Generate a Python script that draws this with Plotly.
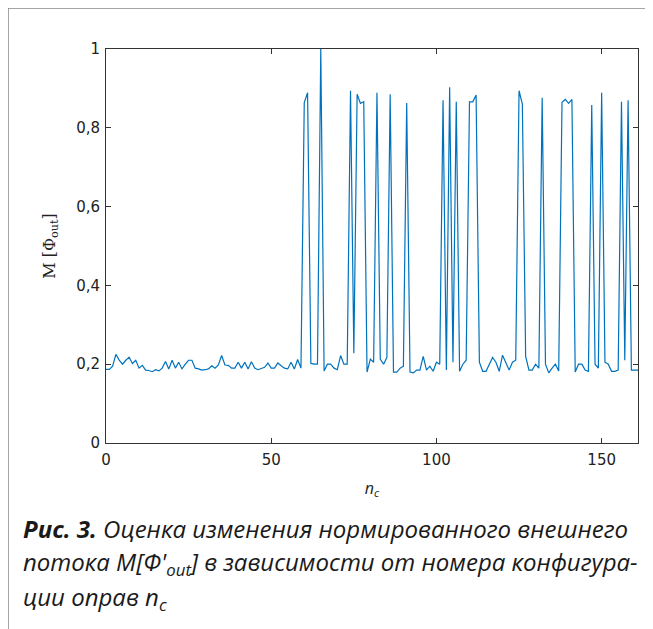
import plotly.graph_objects as go

# M[Phi_out] for each frame configuration n_c = 0..161
m_phi = [
    0.187, 0.187, 0.195, 0.225, 0.21, 0.20, 0.21, 0.218, 0.202, 0.21,
    0.19, 0.197, 0.185, 0.184, 0.181, 0.186, 0.183, 0.19, 0.207, 0.188,
    0.21, 0.19, 0.205, 0.188, 0.20, 0.21, 0.21, 0.19, 0.188, 0.185,
    0.186, 0.188, 0.196, 0.19, 0.198, 0.222, 0.198, 0.197, 0.19, 0.19,
    0.205, 0.19, 0.205, 0.188, 0.206, 0.19, 0.186, 0.19, 0.192, 0.203,
    0.19, 0.19, 0.203, 0.196, 0.19, 0.188, 0.205, 0.188, 0.212, 0.19,
    0.864, 0.889, 0.202, 0.2, 0.2, 1.0, 0.183, 0.2, 0.2, 0.19,
    0.186, 0.222, 0.2, 0.2, 0.894, 0.228, 0.885, 0.862, 0.866, 0.18,
    0.213, 0.205, 0.889, 0.213, 0.2, 0.217, 0.885, 0.18, 0.18, 0.19,
    0.195, 0.863, 0.18, 0.178, 0.185, 0.185, 0.22, 0.185, 0.195, 0.182,
    0.205, 0.2, 0.87, 0.185, 0.903, 0.205, 0.866, 0.182, 0.2, 0.21,
    0.866, 0.866, 0.883, 0.205, 0.182, 0.182, 0.2, 0.217, 0.205, 0.182,
    0.223, 0.205, 0.185, 0.205, 0.21, 0.894, 0.86, 0.22, 0.185, 0.185,
    0.2, 0.19, 0.876, 0.2, 0.178, 0.19, 0.2, 0.183, 0.865, 0.872,
    0.862, 0.872, 0.18, 0.2, 0.2, 0.185, 0.182, 0.858, 0.2, 0.19,
    0.889, 0.205, 0.2, 0.182, 0.182, 0.185, 0.866, 0.21, 0.87, 0.185,
    0.185, 0.185,
]
n_c = list(range(len(m_phi)))

x_ticks = [0, 50, 100, 150]
x_tick_labels = ["0", "50", "100", "150"]
y_ticks = [0, 0.2, 0.4, 0.6, 0.8, 1]
y_tick_labels = ["0", "0,2", "0,4", "0,6", "0,8", "1"]

caption_lines = [
    "<b>Рис. 3.</b> Оценка изменения нормированного внешнего",
    "потока M[Φ'<sub>out</sub>] в зависимости от номера конфигура-",
    "ции оправ n<sub>c</sub>",
]

# page body adds an 8 px offset, so figure coords = screen coords - 8
OFF = 8
W, H = 653, 629
L, T = 106 - OFF, 49 - OFF
R = W - (638 - OFF)
B = H - (443 - OFF)
pw, ph = W - L - R, H - T - B


def px(x):
    return (x - OFF - L) / pw


def py(y):
    return (H - B - (y - OFF)) / ph


fig = go.Figure()
fig.add_trace(go.Scatter(
    x=n_c, y=m_phi, mode="lines",
    line=dict(color="#0072BD", width=1.2),
    showlegend=False, hoverinfo="skip",
))

axis_common = dict(
    showline=True, linecolor="#333333", linewidth=1, mirror="allticks",
    ticks="inside", ticklen=5, tickcolor="#333333", tickwidth=1,
    showgrid=False, zeroline=False,
    tickfont=dict(family="DejaVu Sans", size=15, color="#222222"),
)

fig.update_xaxes(
    range=[0, 161], tickvals=x_ticks, ticktext=x_tick_labels,
    ticklabelstandoff=3,
    title=dict(text="<i>n<sub>c</sub></i>", font=dict(family="Open Sans", size=16, color="#222"), standoff=14),
    **axis_common,
)
fig.update_yaxes(
    range=[0, 1], tickvals=y_ticks, ticktext=y_tick_labels,
    ticklabelstandoff=2,
    title=dict(text="M [Φ<sub>out</sub>]", font=dict(family="DejaVu Serif", size=16, color="#222"), standoff=16),
    **axis_common,
)

# outer frame
fig.add_shape(type="rect", xref="paper", yref="paper",
              x0=px(8), x1=px(720), y0=py(720), y1=py(8),
              line=dict(color="#888888", width=1.5), fillcolor="rgba(0,0,0,0)", layer="below")

for i, line in enumerate(caption_lines):
    fig.add_annotation(
        xref="paper", yref="paper", x=px(21), y=py(528 + 35 * i),
        xanchor="left", yanchor="middle", showarrow=False, align="left",
        text="<i>" + line + "</i>",
        font=dict(family="Open Sans", size=24, color="#1a1a1a"),
    )

fig.update_layout(
    width=W, height=H,
    margin=dict(l=L, r=R, t=T, b=B),
    paper_bgcolor="white", plot_bgcolor="white",
)

fig.write_html("out.html")
